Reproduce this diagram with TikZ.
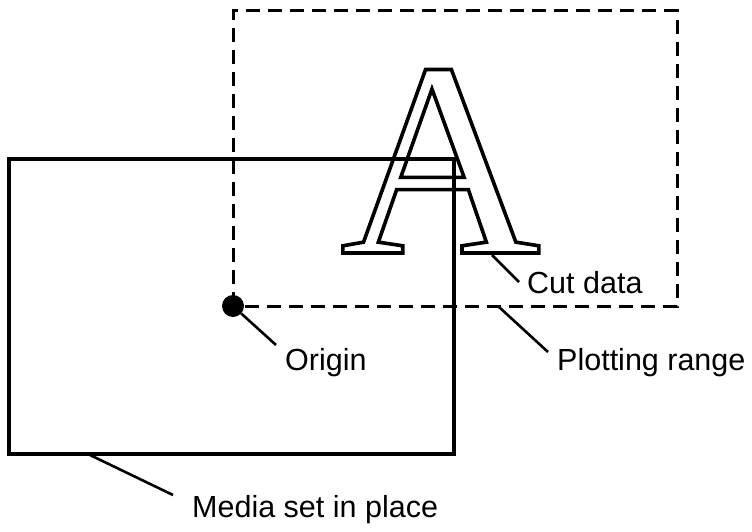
\documentclass[tikz,border=0pt]{standalone}
\usepackage{fontspec}
\setmainfont{Liberation Sans}
\newfontfamily\glyphfont{Liberation Serif}
\tikzset{
  solidbox/.style={line width=3.6pt},
  rangebox/.style={line width=3pt, dash pattern=on 14pt off 8pt},
  leader/.style={line width=2.6pt},
  label/.style={anchor=base west, inner sep=0pt, font=\fontsize{30.5}{36}\selectfont},
}
\begin{document}
\begin{tikzpicture}[x=1pt,y=-1pt]
\useasboundingbox (0,0) rectangle (752,532);
% plotting range (dashed)
\draw[rangebox] (233,306) -- (233,11) -- (677,11) -- (677,306) -- cycle;
% media
\draw[solidbox] (9,159) rectangle (454,454);
% cut data letter (outlined)
\node[anchor=base west, inner sep=0pt, text depth=0pt] (letter) at (340,253)
  {\special{pdf:literal direct 1 Tr 3.6 w}\fontsize{278}{278}\glyphfont A\special{pdf:literal direct 0 Tr}};
% origin
\node[circle, fill=black, minimum size=22pt, inner sep=0pt] (origin) at (233,306) {};
% labels
\node[label] (lorigin) at (285,370) {Origin};
\node[label] (lcut) at (527,293) {Cut data};
\node[label] (lplot) at (557,370) {Plotting range};
\node[label] (lmedia) at (192,517) {Media set in place};
% leader ends
\coordinate (ocut) at (492,255);
\coordinate (ecut) at (519,282);
\coordinate (oplot) at (499,307);
\coordinate (eplot) at (548,352);
\coordinate (omedia) at (90,455);
\coordinate (emedia) at (173,495);
\coordinate (eorigin) at (276,345);
\draw[leader] (origin) -- (eorigin);
\draw[leader] (ocut) -- (ecut);
\draw[leader] (oplot) -- (eplot);
\draw[leader] (omedia) -- (emedia);
\end{tikzpicture}
\end{document}
